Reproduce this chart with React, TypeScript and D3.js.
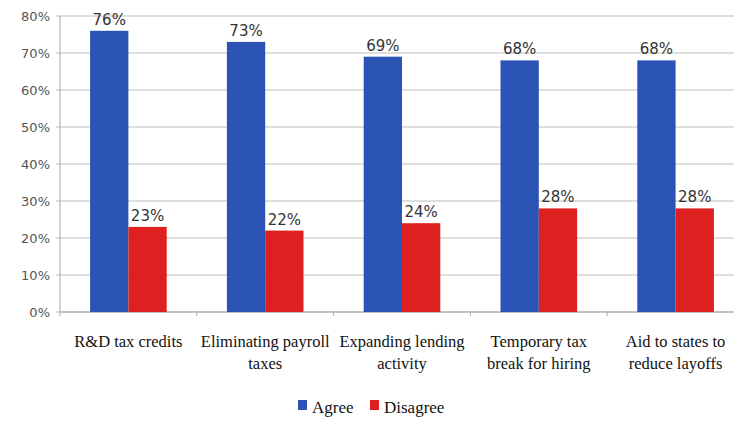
import React from "react";
import * as d3 from "d3";

const categories: string[][] = [
  ["R&D tax credits"],
  ["Eliminating payroll", "taxes"],
  ["Expanding lending", "activity"],
  ["Temporary tax", "break for hiring"],
  ["Aid to states to", "reduce layoffs"],
];
const agree = [76, 73, 69, 68, 68];
const disagree = [23, 22, 24, 28, 28];
const yTicks = [0, 10, 20, 30, 40, 50, 60, 70, 80];
const seriesNames = ["Agree", "Disagree"];
const colors = ["#2B53B5", "#DE2020"];

const W = 734;
const H = 423;
const left = 60;
const right = 744;
const top = 16;
const bottom = 312;

export default function App() {
  const x = d3.scaleBand<number>().domain(d3.range(categories.length)).range([left, right]);
  const y = d3.scaleLinear().domain([0, 80]).range([bottom, top]);
  const bw = x.bandwidth() * 0.28;
  const series = [agree, disagree];
  const sans = "'DejaVu Sans', Verdana, sans-serif";
  const serif = "'Liberation Serif', 'Times New Roman', serif";

  return (
    <svg width={W} height={H} style={{ position: "absolute", left: 0, top: 0, background: "#fff" }}>
      {yTicks.map((t) => (
        <g key={t}>
          <line x1={left - 4} x2={W} y1={y(t)} y2={y(t)} stroke="#bdbdbd" strokeWidth={1} />
          <text x={50} y={y(t) + 5} textAnchor="end" fontFamily={sans} fontSize={13} fill="#555">
            {t}%
          </text>
        </g>
      ))}
      <line x1={left} x2={left} y1={top} y2={bottom} stroke="#a8a8a8" />
      <line x1={left} x2={W} y1={bottom} y2={bottom} stroke="#a8a8a8" />
      {d3.range(categories.length + 1).map((i) => {
        const xx = i < categories.length ? x(i)! : right;
        return <line key={i} x1={xx} x2={xx} y1={bottom} y2={bottom + 4} stroke="#a8a8a8" />;
      })}
      {series.map((vals, s) =>
        vals.map((v, i) => {
          const cx = x(i)! + x.bandwidth() / 2;
          const bx = cx - bw + s * bw;
          return (
            <g key={`${s}-${i}`}>
              <rect x={bx} y={y(v)} width={bw} height={bottom - y(v)} fill={colors[s]} />
              <text
                x={bx + bw / 2}
                y={y(v) - 6}
                textAnchor="middle"
                fontFamily={sans}
                fontSize={15}
                fill="#333"
              >
                {v}%
              </text>
            </g>
          );
        })
      )}
      {categories.map((lines, i) => (
        <text
          key={i}
          x={x(i)! + x.bandwidth() / 2}
          y={347}
          textAnchor="middle"
          fontFamily={serif}
          fontSize={16.5}
          fill="#111"
        >
          {lines.map((l, j) => (
            <tspan key={j} x={x(i)! + x.bandwidth() / 2} dy={j === 0 ? 0 : 22}>
              {l}
            </tspan>
          ))}
        </text>
      ))}
      {seriesNames.map((n, s) => {
        const lx = 298 + s * 72;
        return (
          <g key={n}>
            <rect x={lx} y={400} width={9} height={10} fill={colors[s]} />
            <text x={lx + 14} y={413} fontFamily={serif} fontSize={17} fill="#111">
              {n}
            </text>
          </g>
        );
      })}
    </svg>
  );
}
